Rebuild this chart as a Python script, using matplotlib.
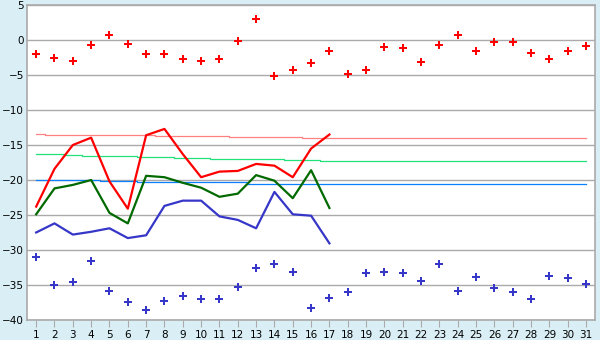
import matplotlib
matplotlib.use("Agg")
import matplotlib.pyplot as plt
import numpy as np

# jours du mois
jours = list(range(1, 32))

# points du haut (rouge) et du bas (bleu), un par jour
pointsHaut = [-2.0, -2.6, -3.05, -0.77, 0.67, -0.62, -2.0, -2.0, -2.77, -3.05,
              -2.77, -0.19, 2.95, -5.19, -4.33, -3.33, -1.62, -4.9, -4.33, -1.05,
              -1.19, -3.19, -0.76, 0.67, -1.62, -0.33, -0.33, -1.9, -2.76, -1.62, -0.9]
pointsBas = [-31.05, -35.05, -34.6, -31.6, -35.9, -37.5, -38.6, -37.3, -36.6, -37.05,
             -37.05, -35.3, -32.6, -32.05, -33.2, -38.3, -36.9, -36.05, -33.3, -33.2,
             -33.3, -34.5, -32.05, -35.9, -33.9, -35.5, -36.05, -37.05, -33.75, -34.05, -34.9]

# courbes (jours 1 a 17)
joursCourbe = list(range(1, 18))
courbeRouge = [-23.8, -18.4, -15.0, -13.95, -20.2, -24.1, -13.6, -12.7, -16.3,
               -19.6, -18.8, -18.7, -17.7, -17.95, -19.6, -15.5, -13.5]
courbeVerte = [-24.9, -21.2, -20.7, -20.0, -24.7, -26.2, -19.4, -19.6, -20.4,
               -21.1, -22.4, -21.95, -19.3, -20.1, -22.6, -18.6, -24.0]
courbeBleue = [-27.5, -26.2, -27.8, -27.4, -26.9, -28.3, -27.9, -23.7, -22.95,
               -22.95, -25.2, -25.7, -26.9, -21.7, -24.9, -25.1, -29.05]

# lignes de reference (moyennes), une valeur par jour
refRose = [-13.48] + [-13.62] * 6 + [-13.72] * 4 + [-13.9] * 4 + [-14.05] * 16
refVerte = ([-16.33] * 2 + [-16.47] + [-16.57] * 3 + [-16.71] * 2 + [-16.9] * 2
            + [-17.04] * 4 + [-17.19] * 2 + [-17.33] * 15)
refBleue = [-20.0] * 4 + [-20.14] * 2 + [-20.33] * 6 + [-20.57] * 19

fond = "#daeff5"
gris = "#aaaaaa"

fig = plt.figure(figsize=(6, 3.4), dpi=100, facecolor=fond)
ax = fig.add_axes([0.045, 0.059, 0.947, 0.926])
ax.set_facecolor("white")

ax.step(jours, refRose, where="mid", color="#ff8080", lw=0.9, zorder=3)
ax.step(jours, refVerte, where="mid", color="#22e07a", lw=0.9, zorder=3)
ax.step(jours, refBleue, where="mid", color="#0a80ff", lw=0.9, zorder=3)

ax.plot(joursCourbe, courbeRouge, color="#ff0000", lw=1.6, zorder=4)
ax.plot(joursCourbe, courbeVerte, color="#006a00", lw=1.6, zorder=4)
ax.plot(joursCourbe, courbeBleue, color="#3636c8", lw=1.6, zorder=4)

ax.plot(jours, pointsHaut, ls="none", marker="P", ms=5.5, color="#ff0000", mew=0, zorder=5)
ax.plot(jours, pointsBas, ls="none", marker="P", ms=5.5, color="#3636c8", mew=0, zorder=5)

ax.set_xlim(0.5, 31.5)
ax.set_ylim(-40, 5)
ax.set_xticks(jours)
ax.set_yticks(np.arange(-40, 6, 5))
ax.grid(axis="y", color=gris, lw=1)
ax.set_axisbelow(True)
for s in ax.spines.values():
    s.set_color(gris)
    s.set_linewidth(1.2)
ax.tick_params(axis="x", length=5, color=gris, labelsize=7.5, pad=2)
ax.tick_params(axis="y", length=1, color=gris, labelsize=7.5, pad=1)

plt.savefig("out.png", facecolor=fond)
